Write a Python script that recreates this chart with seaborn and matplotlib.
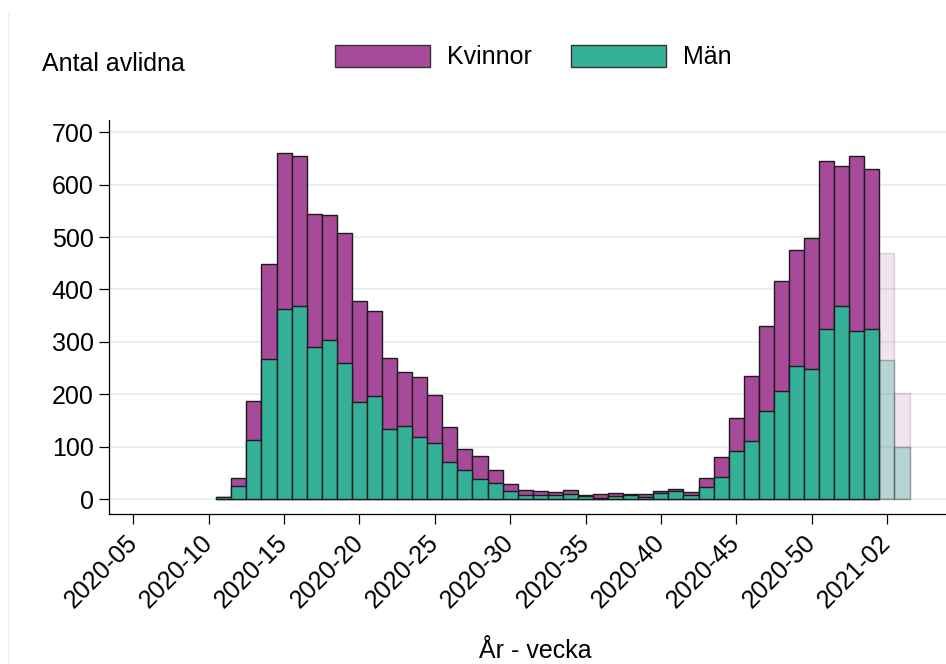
import numpy as np
import pandas as pd
import seaborn as sns
from matplotlib import pyplot as plt
from matplotlib.patches import Patch
from matplotlib.lines import Line2D

# avlidna per vecka, uppdelat på kön
veckor = [f"2020-{w:02d}" for w in range(11, 54)] + ["2021-01", "2021-02", "2021-03"]
kvinnor = [1, 17, 75, 181, 298, 285, 253, 238, 248, 192, 162, 137, 103, 113, 92,
           67, 41, 43, 24, 13, 9, 8, 7, 8, 3, 8, 5, 2, 5, 5, 5, 7, 19, 39, 64,
           124, 163, 210, 221, 250, 321, 268, 334, 305, 203, 103]
man = [3, 24, 112, 268, 362, 369, 291, 304, 260, 186, 196, 133, 140, 119, 106,
       70, 55, 39, 31, 15, 8, 8, 7, 10, 5, 2, 6, 7, 4, 11, 15, 7, 22, 42, 91,
       110, 168, 207, 254, 248, 324, 368, 320, 325, 266, 99]
preliminara = ["2021-02", "2021-03"]

tick_labels = [f"2020-{w:02d}" for w in range(5, 51, 5)] + ["2021-02"]

LILA = "#a74a99"
GRON = "#33b097"


def vecka_pos(v):
    ar, w = v.split("-")
    return int(w) + (53 if ar == "2021" else 0)


df = pd.DataFrame({"vecka": veckor, "kvinnor": kvinnor, "man": man})
df["pos"] = df["vecka"].map(vecka_pos)
df["totalt"] = df["kvinnor"] + df["man"]
df["prelim"] = df["vecka"].isin(preliminara)

sns.set_style("white")
plt.rcParams["font.family"] = ["Liberation Sans", "DejaVu Sans"]
plt.rcParams["text.color"] = "black"

fig = plt.figure(figsize=(9.46, 6.64), dpi=100)
ax = fig.add_axes([0.1152, 0.2259, 0.8848, 0.593])

for prelim, sub in df.groupby("prelim"):
    a_lila = 0.15 if prelim else 1.0
    a_gron = 0.3 if prelim else 1.0
    sns.barplot(data=sub, x="pos", y="totalt", native_scale=True, width=1,
                color=LILA, saturation=1, edgecolor="#1c1c1c", linewidth=1.0,
                alpha=a_lila, errorbar=None, ax=ax)
    sns.barplot(data=sub, x="pos", y="man", native_scale=True, width=1,
                color=GRON, saturation=1, edgecolor="#1c1c1c", linewidth=1.0,
                alpha=a_gron, errorbar=None, ax=ax)

ax.set_xlim(3.38, 58.92)
ax.set_ylim(-28.6, 723)
ax.set_xticks([vecka_pos(t) for t in tick_labels])
ax.set_xticklabels(tick_labels, rotation=45, ha="right", va="center",
                   rotation_mode="anchor")
ax.set_yticks(range(0, 701, 100))
ax.set_yticklabels([str(v) for v in range(0, 701, 100)])
ax.tick_params(axis="both", direction="out", length=7, width=0.9,
               color="black", labelcolor="black", labelsize=18,
               left=True, bottom=True)
ax.tick_params(axis="y", pad=4)
ax.tick_params(axis="x", pad=11)
ax.set_xlabel("")
ax.set_ylabel("")

ax.set_axisbelow(True)
ax.yaxis.grid(True, color="#e7eff1", linewidth=1.5)
ax.xaxis.grid(False)
sns.despine(ax=ax, top=True, right=True)
for s in ["left", "bottom"]:
    ax.spines[s].set_color("black")
    ax.spines[s].set_linewidth(0.9)

fig.text(42 / 946, 0.893, "Antal avlidna", fontsize=18, ha="left", va="baseline")
fig.text(535 / 946, 0.009, "År - vecka", fontsize=18, ha="center", va="baseline")

handles = [Patch(facecolor=LILA, edgecolor="#333333", label="Kvinnor"),
           Patch(facecolor=GRON, edgecolor="#333333", label="Män")]
fig.legend(handles=handles, loc="center", bbox_to_anchor=(533 / 946, 1 - 57 / 664),
           ncol=2, frameon=False, fontsize=18, handlelength=3.8, handleheight=1.0,
           handletextpad=0.68, columnspacing=1.56)

fig.add_artist(Line2D([8 / 946, 8 / 946], [0, 1 - 12 / 664], color="#f0f0f0",
                      linewidth=1, transform=fig.transFigure))

fig.savefig("out.png", dpi=100)
